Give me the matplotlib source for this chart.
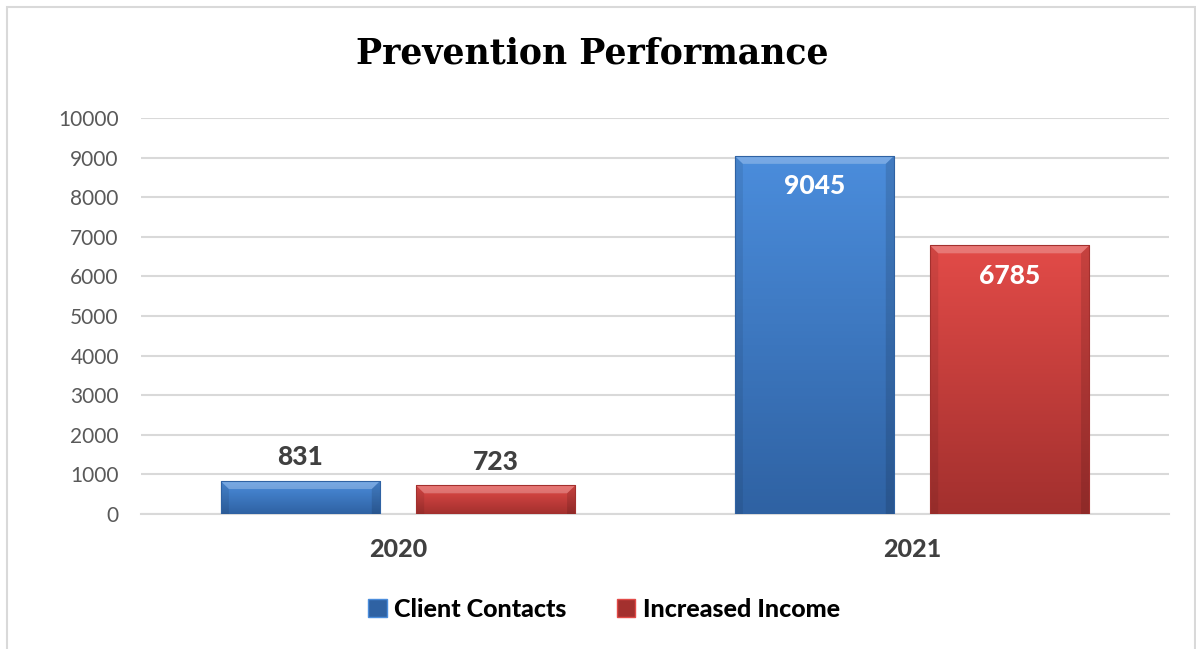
import numpy as np
import matplotlib.pyplot as plt
from matplotlib.patches import Rectangle, Polygon, Patch
from matplotlib.colors import LinearSegmentedColormap

years = ["2020", "2021"]
client_contacts = [831, 9045]
increased_income = [723, 6785]
series_names = ["Client Contacts", "Increased Income"]

blue_top, blue_bot = "#4b8ddc", "#2f62a3"
red_top, red_bot = "#e24b48", "#a3302e"

fig = plt.figure(figsize=(11.96, 6.49), dpi=100)
ax = fig.add_axes([0.1179, 0.208, 0.8595, 0.610])

x = np.arange(len(years))
w = 0.31
off = 0.19

bars_b = ax.bar(x - off, client_contacts, w, color=blue_bot, zorder=2)
bars_r = ax.bar(x + off, increased_income, w, color=red_bot, zorder=2)

ax.set_xlim(-0.5, 1.5)
ax.set_ylim(0, 10000)
ax.set_yticks(range(0, 10001, 1000))
ax.set_xticks(x)
ax.set_xticklabels(years, fontsize=18, fontweight=900, color="#404040", family="Lato")
ax.tick_params(axis="x", length=0, pad=17)
ax.tick_params(axis="y", length=0, pad=16, labelsize=15, labelcolor="#595959")
for lab in ax.get_yticklabels():
    lab.set_family("Lato")
ax.grid(axis="y", color="#d9d9d9", linewidth=1.5, zorder=0)
for s in ["left", "right", "top"]:
    ax.spines[s].set_visible(False)
ax.spines["bottom"].set_color("#d9d9d9")
ax.spines["bottom"].set_linewidth(1.5)


def shade(bars, top, bot):
    cmap = LinearSegmentedColormap.from_list("g", [bot, top])
    bx = 0.016   # bevel width in x data units
    by = 200     # bevel height in y data units
    for b in bars:
        x0, y0 = b.get_x(), b.get_y()
        bw, bh = b.get_width(), b.get_height()
        grad = np.linspace(0, 1, 100).reshape(-1, 1)
        im = ax.imshow(grad, cmap=cmap, aspect="auto", origin="lower",
                       extent=[x0, x0 + bw, y0, y0 + bh], zorder=3)
        im.set_clip_path(b)
        # bevel top
        ax.add_patch(Polygon([(x0, y0 + bh), (x0 + bw, y0 + bh),
                              (x0 + bw - bx, y0 + bh - by), (x0 + bx, y0 + bh - by)],
                             closed=True, facecolor="white", alpha=0.25, lw=0, zorder=4))
        # bevel sides
        ax.add_patch(Polygon([(x0, y0 + bh), (x0 + bx, y0 + bh - by),
                              (x0 + bx, y0), (x0, y0)],
                             closed=True, facecolor="black", alpha=0.08, lw=0, zorder=4))
        ax.add_patch(Polygon([(x0 + bw, y0 + bh), (x0 + bw - bx, y0 + bh - by),
                              (x0 + bw - bx, y0), (x0 + bw, y0)],
                             closed=True, facecolor="black", alpha=0.12, lw=0, zorder=4))
        ax.add_patch(Rectangle((x0, y0), bw, bh, fill=False, edgecolor=bot,
                               lw=0.8, zorder=5))


shade(bars_b, blue_top, blue_bot)
shade(bars_r, red_top, red_bot)

for bars, vals in [(bars_b, client_contacts), (bars_r, increased_income)]:
    for b, v in zip(bars, vals):
        cx = b.get_x() + b.get_width() / 2
        if v > 3000:
            ax.annotate(str(v), (cx, v), xytext=(0, -22), textcoords="offset points",
                        ha="center", va="center", fontsize=19, fontweight=900,
                        color="white", family="Lato", zorder=6)
        else:
            ax.annotate(str(v), (cx, v), xytext=(0, 17), textcoords="offset points",
                        ha="center", va="center", fontsize=19, fontweight=900,
                        color="#404040", family="Lato", zorder=6)

fig.text(0.495, 0.918, "Prevention Performance", ha="center", va="center",
         fontsize=25, fontweight="bold", family="DejaVu Serif")

handles = [Patch(facecolor=blue_bot, edgecolor=blue_top),
           Patch(facecolor=red_bot, edgecolor=red_top)]
fig.legend(handles, series_names, loc="center", bbox_to_anchor=(0.505, 0.061),
           ncol=2, frameon=False, handlelength=0.75, handleheight=0.75,
           handletextpad=0.3, columnspacing=2.0,
           prop={"family": "Lato", "weight": 900, "size": 18})

fig.add_artist(Rectangle((7 / 1196, -0.01), 1188 / 1196, 1 - 7 / 649 + 0.01,
                         transform=fig.transFigure, fill=False,
                         edgecolor="#d9d9d9", lw=1.5))

fig.savefig("out.png", dpi=100)
